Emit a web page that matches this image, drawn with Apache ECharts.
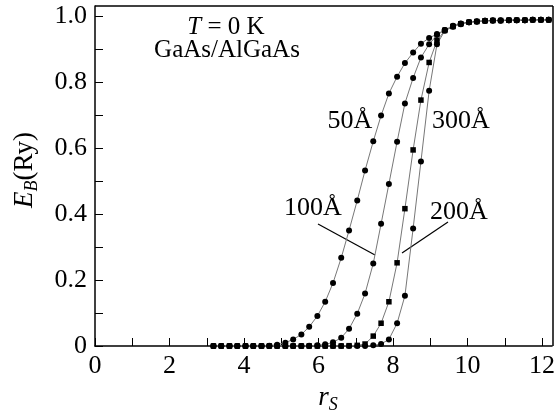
<!DOCTYPE html>
<html>
<head>
<meta charset="utf-8">
<script src="https://cdn.jsdelivr.net/npm/echarts@6/dist/echarts.min.js"></script>
<style>
  html, body { margin: 0; padding: 0; background: #fff; }
  #chart { width: 558px; height: 417px; }
</style>
</head>
<body>
<div id="chart"></div>
<script>
// r_S sample positions
const rS = [3.18, 3.39, 3.61, 3.82, 4.04, 4.25, 4.47, 4.68, 4.89, 5.11,
  5.32, 5.54, 5.75, 5.97, 6.18, 6.39, 6.61, 6.82, 7.04, 7.25,
  7.47, 7.68, 7.89, 8.11, 8.32, 8.54, 8.75, 8.97, 9.18, 9.39,
  9.61, 9.82, 10.04, 10.25, 10.47, 10.68, 10.89, 11.11, 11.32, 11.54,
  11.75, 11.97, 12.18];

// E_B (Ry) for each well width
const eb50 = [0, 0, 0, 0, 0, 0, 0, 0.001, 0.004, 0.010,
  0.020, 0.035, 0.058, 0.091, 0.134, 0.191, 0.267, 0.350, 0.441, 0.532,
  0.620, 0.698, 0.765, 0.816, 0.857, 0.889, 0.916, 0.933, 0.945, 0.957,
  0.970, 0.977, 0.981, 0.983, 0.985, 0.986, 0.986, 0.987, 0.987, 0.987,
  0.988, 0.988, 0.988];
const eb100 = [0, 0, 0, 0, 0, 0, 0, 0, 0, 0,
  0, 0, 0.001, 0.002, 0.005, 0.011, 0.025, 0.052, 0.098, 0.159,
  0.250, 0.370, 0.491, 0.619, 0.735, 0.812, 0.874, 0.914, 0.942, 0.957,
  0.969, 0.976, 0.981, 0.983, 0.985, 0.986, 0.986, 0.987, 0.987, 0.987,
  0.988, 0.988, 0.988];
const eb200 = [0, 0, 0, 0, 0, 0, 0, 0, 0, 0,
  0, 0, 0, 0, 0, 0, 0, 0.001, 0.002, 0.006,
  0.030, 0.069, 0.134, 0.252, 0.416, 0.594, 0.745, 0.859, 0.925, 0.956,
  0.968, 0.976, 0.981, 0.983, 0.985, 0.986, 0.986, 0.987, 0.987, 0.987,
  0.988, 0.988, 0.988];
const eb300 = [0, 0, 0, 0, 0, 0, 0, 0, 0, 0,
  0, 0, 0, 0, 0, 0, 0, 0, 0, 0,
  0.002, 0.006, 0.020, 0.069, 0.152, 0.356, 0.559, 0.773, 0.914, 0.955,
  0.967, 0.975, 0.981, 0.983, 0.985, 0.986, 0.986, 0.987, 0.987, 0.987,
  0.988, 0.988, 0.988];

const seriesNames = ['50Å', '100Å', '200Å', '300Å'];
const seriesValues = [eb50, eb100, eb200, eb300];
const seriesSymbols = ['circle', 'circle', 'rect', 'circle'];

const FONT = '"Liberation Serif", "Times New Roman", serif';

const chart = echarts.init(document.getElementById('chart'));

const series = seriesNames.map((name, i) => ({
  name: name,
  type: 'line',
  data: rS.map((x, k) => [x, seriesValues[i][k]]),
  symbol: seriesSymbols[i],
  symbolSize: seriesSymbols[i] === 'rect' ? 5.5 : 6,
  itemStyle: { color: '#000' },
  lineStyle: { color: '#777', width: 1 },
  z: 3
}));

const option = {
  animation: false,
  backgroundColor: '#fff',
  grid: { left: 95, right: 5, top: 6, bottom: 71 },
  xAxis: {
    type: 'value',
    min: 0,
    max: 12.27,
    interval: 1,
    axisLine: { show: true, lineStyle: { color: '#000', width: 1.5 } },
    axisTick: { show: true, inside: true, length: 8, lineStyle: { color: '#000', width: 1 } },
    splitLine: { show: false },
    axisLabel: {
      color: '#000',
      fontFamily: FONT,
      fontSize: 26,
      margin: 7,
      showMaxLabel: false,
      formatter: v => (Math.round(v) % 2 === 0 && Math.abs(v - Math.round(v)) < 1e-6) ? String(Math.round(v)) : ''
    }
  },
  yAxis: {
    type: 'value',
    min: 0,
    max: 1.03,
    interval: 0.1,
    axisLine: { show: true, lineStyle: { color: '#000', width: 1.5 } },
    axisTick: { show: true, inside: true, length: 8, lineStyle: { color: '#000', width: 1 } },
    splitLine: { show: false },
    axisLabel: {
      color: '#000',
      fontFamily: FONT,
      fontSize: 26,
      margin: 8,
      showMaxLabel: false,
      formatter: v => {
        const t = Math.round(v * 10);
        if (t % 2 !== 0 || t > 10) return '';
        return t === 0 ? '0' : (t / 10).toFixed(1);
      }
    }
  },
  graphic: [
    // frame: top and right sides
    { type: 'line', shape: { x1: 95, y1: 6, x2: 553, y2: 6 }, style: { stroke: '#000', lineWidth: 1.5 }, z: 10 },
    { type: 'line', shape: { x1: 553, y1: 6, x2: 553, y2: 346 }, style: { stroke: '#000', lineWidth: 1.5 }, z: 10 },
    // conditions
    { type: 'text', x: 226, y: 27, style: {
        text: '{i|T} = 0 K',
        rich: { i: { fontStyle: 'italic', fontFamily: FONT, fontSize: 25 } },
        font: '25px ' + FONT, fill: '#000', align: 'center', verticalAlign: 'middle' } },
    { type: 'text', x: 227, y: 50, style: {
        text: 'GaAs/AlGaAs', font: '25px ' + FONT, fill: '#000', align: 'center', verticalAlign: 'middle' } },
    // curve labels
    { type: 'text', x: 350, y: 121, style: { text: '50Å', font: '26px ' + FONT, fill: '#000', align: 'center', verticalAlign: 'middle' } },
    { type: 'text', x: 461, y: 121, style: { text: '300Å', font: '26px ' + FONT, fill: '#000', align: 'center', verticalAlign: 'middle' } },
    { type: 'text', x: 313, y: 208, style: { text: '100Å', font: '26px ' + FONT, fill: '#000', align: 'center', verticalAlign: 'middle' } },
    { type: 'text', x: 459, y: 212, style: { text: '200Å', font: '26px ' + FONT, fill: '#000', align: 'center', verticalAlign: 'middle' } },
    // leader lines
    { type: 'line', shape: { x1: 318, y1: 224, x2: 375, y2: 255 }, style: { stroke: '#000', lineWidth: 1.2 } },
    { type: 'line', shape: { x1: 448, y1: 222, x2: 402, y2: 253 }, style: { stroke: '#000', lineWidth: 1.2 } },
    // axis names
    { type: 'text', x: 25, y: 170, rotation: Math.PI / 2, style: {
        text: '{e|E}{s|B}{n|(Ry)}',
        rich: {
          e: { fontStyle: 'italic', fontFamily: FONT, fontSize: 27, lineHeight: 32, verticalAlign: 'middle' },
          s: { fontStyle: 'italic', fontFamily: FONT, fontSize: 18, lineHeight: 32, verticalAlign: 'bottom' },
          n: { fontFamily: FONT, fontSize: 27, lineHeight: 32, verticalAlign: 'middle' }
        },
        fill: '#000', align: 'center', verticalAlign: 'middle' } },
    { type: 'text', x: 328, y: 398, style: {
        text: '{r|r}{s|S}',
        rich: {
          r: { fontStyle: 'italic', fontFamily: FONT, fontSize: 27, lineHeight: 32, verticalAlign: 'middle' },
          s: { fontStyle: 'italic', fontFamily: FONT, fontSize: 18, lineHeight: 32, verticalAlign: 'bottom' }
        },
        fill: '#000', align: 'center', verticalAlign: 'middle' } }
  ],
  series: series
};

chart.setOption(option);
</script>
</body>
</html>
